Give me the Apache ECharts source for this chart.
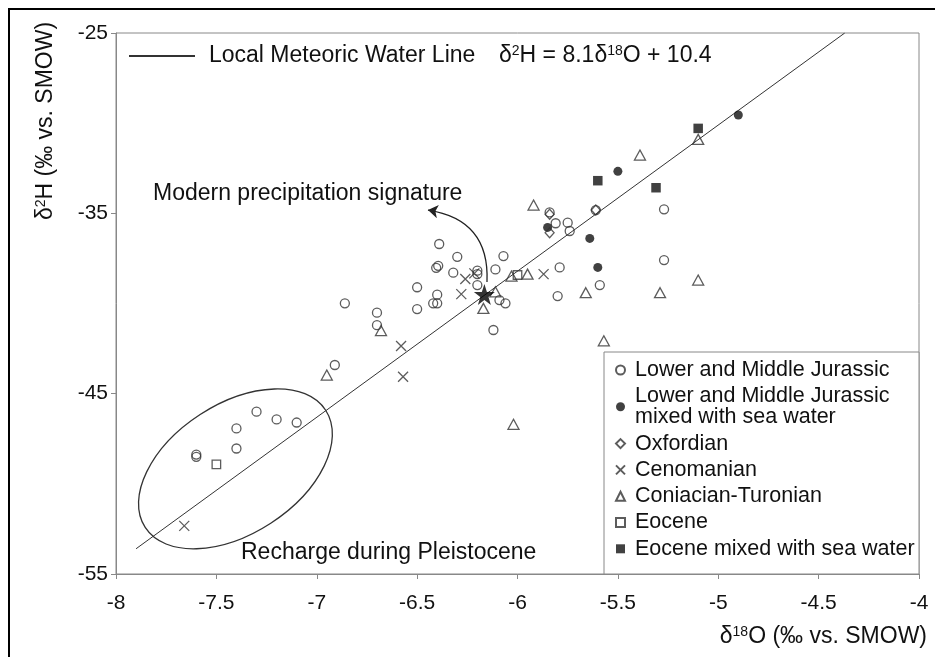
<!DOCTYPE html>
<html><head><meta charset="utf-8">
<script src="https://cdn.jsdelivr.net/npm/echarts@6/dist/echarts.min.js"></script>
<style>html,body{margin:0;padding:0;background:#fff}#c{width:935px;height:657px}</style>
</head><body><div id="c"></div>
<script>
// ---- Data ----
const xAxisRange = [-8, -4];      // δ18O
const yAxisRange = [-55, -25];    // δ2H
const lmwlPoints = [[-7.9, -53.6], [-4.37, -25.0]]; // δ2H = 8.1δ18O + 10.4

const lowerMiddleJurassic = [
  [-7.60,-48.38],[-7.60,-48.50],[-7.40,-46.93],[-7.40,-48.04],[-7.30,-46.00],[-7.20,-46.43],[-7.10,-46.60],
  [-6.91,-43.41],[-6.86,-39.99],[-6.70,-40.51],[-6.70,-41.20],[-6.50,-39.10],[-6.50,-40.31],
  [-6.42,-39.99],[-6.40,-39.99],[-6.40,-39.51],[-6.405,-38.02],[-6.395,-37.91],[-6.39,-36.70],
  [-6.30,-37.41],[-6.32,-38.29],[-6.20,-38.18],[-6.20,-38.37],[-6.20,-38.98],
  [-6.11,-38.11],[-6.07,-37.37],[-6.09,-39.81],[-6.06,-39.99],[-6.12,-41.47],
  [-5.84,-34.95],[-5.81,-35.55],[-5.75,-35.52],[-5.74,-35.98],[-5.61,-34.82],
  [-5.27,-34.78],[-5.27,-37.59],[-5.79,-38.00],[-5.80,-39.59],[-5.59,-38.98]
];
const lowerMiddleJurassicSea = [[-5.85,-35.78],[-5.64,-36.39],[-5.60,-38.00],[-5.50,-32.67],[-4.90,-29.55]];
const oxfordian = [[-5.84,-35.05],[-5.84,-36.08],[-5.61,-34.82]];
const cenomanian = [[-7.66,-52.33],[-6.58,-42.36],[-6.57,-44.06],[-6.26,-38.64],[-6.28,-39.48],[-6.215,-38.33],[-5.87,-38.37]];
const coniacianTuronian = [
  [-6.95,-43.97],[-6.68,-41.50],[-6.11,-39.35],[-6.17,-40.27],[-6.03,-38.48],[-5.95,-38.37],[-5.92,-34.54],
  [-5.66,-39.40],[-5.39,-31.77],[-5.29,-39.40],[-5.10,-38.70],[-5.10,-30.90],[-5.57,-42.07],[-6.02,-46.70]
];
const eocene = [[-7.50,-48.92],[-6.00,-38.42]];
const eoceneSea = [[-5.60,-33.19],[-5.31,-33.58],[-5.10,-30.29]];
const modernPrecipitation = [[-6.165,-39.5]];
const arrowFrom = [-6.152,-38.81];
const arrowTo = [-6.446,-34.82];
const ellipseCenter = [-7.405,-49.17];

const names = [
  'Lower and Middle Jurassic',
  'Lower and Middle Jurassic\nmixed with sea water',
  'Oxfordian',
  'Cenomanian',
  'Coniacian-Turonian',
  'Eocene',
  'Eocene mixed with sea water'
];
const lmwlName = 'Local Meteoric Water Line';

// ---- Chart ----
const FONT = '"Liberation Sans", Arial, sans-serif';
const STROKE = '#333';
const TXT = '#111';
const AX = '#888';
const CLEAR = 'rgba(0,0,0,0)';
const openStyle = {color:CLEAR, borderColor:STROKE, borderWidth:1.3};
const STAR = 'path://M50,0 L61.8,35.1 L98.9,35.1 L69.1,57 L80.3,91.9 L50,70.5 L19.7,91.9 L30.9,57 L1.1,35.1 L38.2,35.1 Z';

const chart = echarts.init(document.getElementById('c'), null, {renderer:'canvas'});
const axisCommon = {
  type:'value',
  axisLine:{show:true, onZero:false, lineStyle:{color:AX, width:1}},
  axisTick:{show:true, inside:false, length:5, lineStyle:{color:AX}},
  splitLine:{show:false}
};
chart.setOption({
  animation:false,
  grid:{left:116, right:16, top:33, bottom:83, show:true, borderColor:AX, borderWidth:1},
  xAxis:Object.assign({}, axisCommon, {min:xAxisRange[0], max:xAxisRange[1], interval:0.5,
    axisLabel:{fontSize:21, fontFamily:FONT, color:TXT, margin:19}}),
  yAxis:Object.assign({}, axisCommon, {min:yAxisRange[0], max:yAxisRange[1], interval:10,
    axisLabel:{fontSize:21, fontFamily:FONT, color:TXT, margin:8}}),
  legend:[
    {data:names, orient:'vertical', left:615, top:359, itemGap:4.3, itemWidth:9, itemHeight:9,
     selectedMode:false, padding:0,
     textStyle:{fontSize:21.5, fontFamily:FONT, color:TXT, lineHeight:21, padding:[0,0,0,5]}},
    {data:[{name:lmwlName, itemStyle:{color:CLEAR, borderColor:CLEAR, borderWidth:0}}],
     left:128, top:43, itemWidth:66, itemHeight:26, selectedMode:false, padding:0,
     textStyle:{fontSize:23, fontFamily:FONT, color:TXT, lineHeight:26, padding:[0,0,0,9]}}
  ],
  series:[
    {name:lmwlName, type:'line', data:lmwlPoints, symbol:'none', silent:true, z:1,
     itemStyle:{color:CLEAR}, lineStyle:{color:'#333', width:1}},
    {name:names[0], type:'scatter', data:lowerMiddleJurassic, symbol:'circle', symbolSize:9, itemStyle:openStyle, silent:true},
    {name:names[1], type:'scatter', data:lowerMiddleJurassicSea, symbol:'circle', symbolSize:9, itemStyle:{color:'#111'}, silent:true},
    {name:names[2], type:'scatter', data:oxfordian, symbol:'path://M5,0L10,5L5,10L0,5Z', symbolSize:[9,10], itemStyle:openStyle, silent:true},
    {name:names[3], type:'scatter', data:cenomanian, symbol:'path://M0,0L10,10M10,0L0,10', symbolSize:10, itemStyle:openStyle, silent:true},
    {name:names[4], type:'scatter', data:coniacianTuronian, symbol:'triangle', symbolSize:[11,10], itemStyle:openStyle, silent:true},
    {name:names[5], type:'scatter', data:eocene, symbol:'rect', symbolSize:8.5, itemStyle:openStyle, silent:true},
    {name:names[6], type:'scatter', data:eoceneSea, symbol:'rect', symbolSize:9.5, itemStyle:{color:'#111'}, silent:true},
    {name:'Modern precipitation', type:'scatter', data:modernPrecipitation, symbol:STAR, symbolSize:21,
     itemStyle:{color:'#000'}, silent:true, z:5},
    {name:'arrow', type:'lines', coordinateSystem:'cartesian2d', silent:true, z:4,
     symbol:['none','arrow'], symbolSize:[0,10],
     lineStyle:{color:'#222', width:1.3, opacity:1, curveness:-0.45},
     data:[{coords:[arrowFrom, arrowTo]}]}
  ]
});

const c = chart.convertToPixel({gridIndex:0}, ellipseCenter);
const rich = {n:{fontSize:23, fontFamily:FONT, color:TXT}, s:{fontSize:14, fontFamily:FONT, color:TXT, verticalAlign:'top'}};
chart.setOption({
  graphic:[
    {type:'rect', silent:true, z:-1, shape:{x:9, y:9, width:960, height:700}, style:{fill:'none', stroke:'#000', lineWidth:2}},
    {type:'rect', silent:true, z:1, shape:{x:604, y:352, width:315, height:222}, style:{fill:'#fff', stroke:AX, lineWidth:1}},
    {type:'text', silent:true, x:499, y:56, style:{text:'{n|δ}{s|2}{n|H = 8.1δ}{s|18}{n|O + 10.4}', rich:rich, fontSize:23, fontFamily:FONT, fill:TXT, align:'left', verticalAlign:'middle'}},
    {type:'text', silent:true, x:153, y:194, style:{text:'Modern precipitation signature', fontSize:23, fontFamily:FONT, fill:TXT, align:'left', verticalAlign:'middle'}},
    {type:'text', silent:true, x:241, y:553, style:{text:'Recharge during Pleistocene', fontSize:23, fontFamily:FONT, fill:TXT, align:'left', verticalAlign:'middle'}},
    {type:'text', silent:true, x:927, y:637, style:{text:'{n|δ}{s|18}{n|O (‰ vs. SMOW)}', rich:rich, fontSize:23, fontFamily:FONT, fill:TXT, align:'right', verticalAlign:'middle'}},
    {type:'text', silent:true, x:46, y:121, rotation:Math.PI/2, style:{text:'{n|δ}{s|2}{n|H (‰ vs. SMOW)}', rich:rich, fontSize:23, fontFamily:FONT, fill:TXT, align:'center', verticalAlign:'middle'}},
    {type:'ellipse', silent:true, x:c[0], y:c[1], rotation:33*Math.PI/180, shape:{cx:0, cy:0, rx:107.6, ry:64.8}, style:{fill:'none', stroke:STROKE, lineWidth:1.3}}
  ]
});
</script></body></html>
